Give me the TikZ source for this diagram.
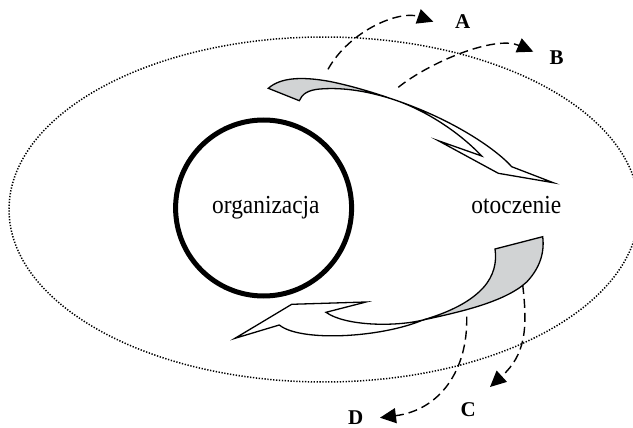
\documentclass[tikz,border=0pt]{standalone}
\usepackage{fontspec}
\setmainfont{Liberation Serif}
\usetikzlibrary{arrows.meta}
\definecolor{arrowgray}{RGB}{209,211,212}
\begin{document}
\begin{tikzpicture}[x=1pt,y=-1pt,
  envline/.style={draw=black,line width=1.5pt,dash pattern=on 1.3pt off 1.6pt},
  orgcircle/.style={circle,draw=black,line width=5pt,minimum size=176pt,inner sep=0pt},
  ribbon/.style={draw=black,line width=1.3pt,line join=miter,miter limit=20},
  shaded/.style={ribbon,fill=arrowgray},
  blank/.style={ribbon,fill=white},
  flow/.style={draw=black,line width=1.4pt,dash pattern=on 9pt off 5pt,
    -{Triangle[length=16pt,width=15pt]}},
  txt/.style={font=\fontsize{26}{30}\selectfont,inner sep=0pt,anchor=base},
  tag/.style={font=\fontsize{21}{24}\selectfont\bfseries,inner sep=0pt,anchor=base}
]
\useasboundingbox (0,0) rectangle (633,428);
\fill[white] (0,0) rectangle (633,428);

% environment ellipse
\draw[envline] (324,209.5) ellipse [x radius=315, y radius=172.5];

% organization circle
\node[orgcircle] (org) at (263.6,208) {};
\node[txt] (orgtext) at (265.9,213.3) {\scalebox{0.9}[1]{organizacja}};
\node[txt] (envtext) at (516.3,213.3) {\scalebox{0.9}[1]{otoczenie}};

% upper ribbon arrow
\path[shaded] (268.3,88.3) .. controls (280,78) and (300,76) .. (330,81.5)
  .. controls (352,86) and (375,93) .. (392,99)
  .. controls (370,92) and (345,87) .. (320,89)
  .. controls (308,90) and (302,94) .. (299.3,100.7) -- cycle;
\path[blank] (392,99) .. controls (420,108) and (455,128) .. (481.7,156)
  -- (438.3,140.7) -- (498.3,173.3) -- (553.3,182.7) -- (511.7,166.7)
  .. controls (495,148) and (450,118) .. (392,99) -- cycle;

% lower ribbon arrow
\path[shaded] (495,249) -- (542.7,236.7) .. controls (545,255) and (538,270) .. (526.7,282)
  .. controls (505,302) and (460,312) .. (423,320)
  .. controls (450,312) and (470,302) .. (483,288)
  .. controls (494,276) and (497,262) .. (495,249) -- cycle;
\path[blank] (423,320) .. controls (395,327) and (345,326) .. (326,312.3)
  -- (366,302) -- (291.7,304.3) -- (235,338.3) -- (279.3,325)
  .. controls (300,342) and (380,338) .. (423,320) -- cycle;

% dashed flows
\coordinate (a0) at (328,69.3);   \coordinate (a1) at (433.3,21.7);
\coordinate (b0) at (398.3,87.3); \coordinate (b1) at (533.3,51.7);
\coordinate (c0) at (522.7,285);  \coordinate (c1) at (490,387);
\coordinate (d0) at (466.7,316.7);\coordinate (d1) at (380,417.7);
\draw[flow] (a0) .. controls (350,30) and (400,10) .. (a1);
\draw[flow] (b0) .. controls (430,62) and (495,35) .. (b1);
\draw[flow] (c0) .. controls (528,330) and (525,355) .. (c1);
\draw[flow] (d0) .. controls (468,370) and (440,410) .. (d1);

% letters
\node[tag] (la) at (462.8,28.3) {A};
\node[tag] (lb) at (556.7,65) {B};
\node[tag] (lc) at (468.3,416.7) {C};
\node[tag] (ld) at (355.8,424.5) {D};
\end{tikzpicture}
\end{document}
